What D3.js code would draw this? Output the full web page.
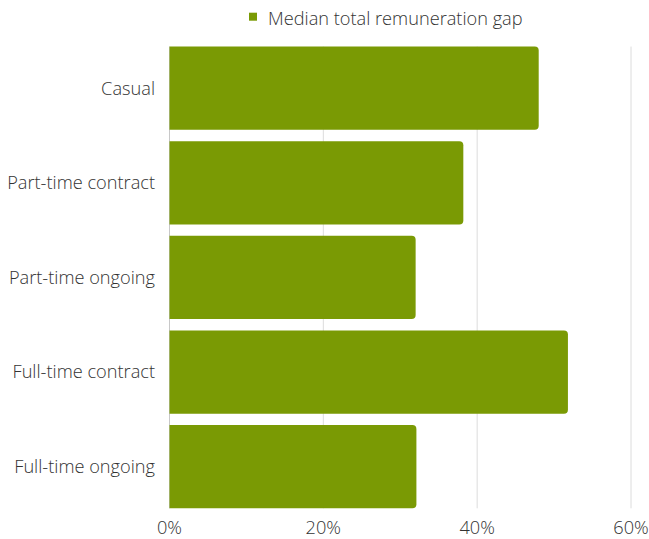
<!DOCTYPE html>
<html>
<head>
<meta charset="utf-8">
<script src="https://cdn.jsdelivr.net/npm/d3@7"></script>
<style>
  body { margin: 0; background: #fff; }
  svg text { font-family: "Open Sans", sans-serif; font-weight: 300; fill: #333; }
</style>
</head>
<body>
<div id="chart"></div>
<script>
const categories = ["Casual", "Part-time contract", "Part-time ongoing", "Full-time contract", "Full-time ongoing"];
const gapValues = [48.0, 38.2, 32.0, 51.8, 32.1];
const xTicks = [0, 20, 40, 60];
const seriesName = "Median total remuneration gap";

const width = 649, height = 539;
const barColor = "#7a9a04";
const fontSize = 18.2;

const svg = d3.select("#chart").append("svg")
    .attr("width", width)
    .attr("height", height);

const x = d3.scaleLinear().domain([0, 60]).range([169.5, 631]);
const y = d3.scaleBand().domain(categories).range([40.9, 514]).paddingInner(0.12).paddingOuter(0.06);

const gridTop = y(categories[0]);
const gridBottom = y(categories[categories.length - 1]) + y.bandwidth();

// gridlines
svg.append("g")
    .selectAll("line")
    .data(xTicks)
    .enter().append("line")
    .attr("x1", d => x(d))
    .attr("x2", d => x(d))
    .attr("y1", gridTop)
    .attr("y2", gridBottom)
    .attr("stroke", d => d === 0 ? "#c8c8c8" : "#dcdcdc")
    .attr("stroke-width", 1);

// bars, rounded on the right end only
const r = 4;
svg.append("g")
    .selectAll("path")
    .data(categories)
    .enter().append("path")
    .attr("fill", barColor)
    .attr("d", (d, i) => {
        const x0 = x(0), x1 = x(gapValues[i]), y0 = y(d), h = y.bandwidth();
        return `M${x0},${y0}H${x1 - r}Q${x1},${y0} ${x1},${y0 + r}V${y0 + h - r}Q${x1},${y0 + h} ${x1 - r},${y0 + h}H${x0}Z`;
    });

// category labels
svg.append("g")
    .attr("text-anchor", "end")
    .selectAll("text")
    .data(categories)
    .enter().append("text")
    .attr("x", 155)
    .attr("y", d => y(d) + y.bandwidth() / 2)
    .attr("dy", "0.35em")
    .attr("font-size", fontSize)
    .text(d => d);

// x axis tick labels
svg.append("g")
    .attr("text-anchor", "middle")
    .selectAll("text")
    .data(xTicks)
    .enter().append("text")
    .attr("x", d => x(d))
    .attr("y", 534)
    .attr("font-size", fontSize)
    .text(d => d + "%");

// legend
const legend = svg.append("g");
legend.append("rect")
    .attr("x", 249)
    .attr("y", 12.7)
    .attr("width", 8)
    .attr("height", 8)
    .attr("fill", barColor);
legend.append("text")
    .attr("x", 268)
    .attr("y", 25)
    .attr("font-size", fontSize)
    .text(seriesName);
</script>
</body>
</html>
